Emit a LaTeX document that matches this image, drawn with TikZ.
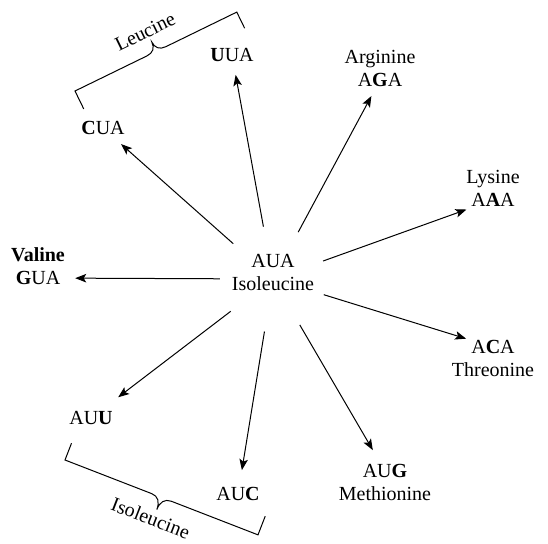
\documentclass[tikz,border=0pt]{standalone}
\usepackage{fontspec}
\setmainfont{Liberation Serif}
\usetikzlibrary{arrows.meta,calc}
\begin{document}
\begin{tikzpicture}[x=1pt,y=-1pt,
  font=\fontsize{20}{23}\selectfont,
  codon/.style={circle,inner sep=0pt,minimum size=48pt},
  acid/.style={inner sep=0pt,anchor=base},
  conn/.style={line width=1pt,-{Stealth[length=11pt,width=8.5pt,inset=2.5pt]}},
  bracket/.style={line width=1pt},
  bracelabel/.style={inner sep=0pt}]
\useasboundingbox (0,0) rectangle (548,543);
% centre
\node[circle,minimum size=106pt,inner sep=0pt] (c) at (273,279) {};
\node[align=center,inner sep=0pt] (ctext) at (273,272) {AUA\\Isoleucine};
% codons
\node[codon] (gua) at (38,278) {\textbf{G}UA};
\node[acid] (valine) at ([yshift=16.5pt]gua.center) {\textbf{Valine}};
\node[codon] (cua) at (103,128) {\textbf{C}UA};
\node[codon] (uua) at (232,55) {\textbf{U}UA};
\node[codon] (aga) at (380,80) {A\textbf{G}A};
\node[acid] (arg) at ([yshift=16.5pt]aga.center) {Arginine};
\node[codon] (aaa) at (493,200) {A\textbf{A}A};
\node[acid] (lys) at ([yshift=16.5pt]aaa.center) {Lysine};
\node[codon] (aca) at (493,347) {A\textbf{C}A};
\node[acid] (thr) at ([yshift=-29.5pt]aca.center) {Threonine};
\node[codon] (aug) at (385,471) {AU\textbf{G}};
\node[acid] (met) at ([yshift=-29.5pt]aug.center) {Methionine};
\node[codon] (auc) at (238,494) {AU\textbf{C}};
\node[codon] (auu) at (91,418) {AU\textbf{U}};
% arrows
\draw[conn, shorten >=13pt] (c) -- (gua);
\draw[conn] (c) -- (cua);
\draw[conn, shorten >=-4pt] (c) -- (uua);
\draw[conn, shorten >=-6pt] (c) -- (aga);
\draw[conn, shorten >=4pt] (c) -- (aaa);
\draw[conn, shorten >=4pt] (c) -- (aca);
\draw[conn] (c) -- (aug);
\draw[conn] (c) -- (auc);
\draw[conn, shorten >=10pt] (c) -- (auu);
% Leucine brace
\begin{scope}[shift={(75,91)},rotate=26,x=1pt,y=1pt]
\draw[bracket] (0,-20) -- (0,0) -- (80,0) .. controls (87,0) and (90.5,4) .. (90.5,10.3)
  .. controls (90.5,4) and (94,0) .. (101,0) -- (180,0) -- (180,-18);
\node[bracelabel,rotate=26,anchor=base] (leu) at (89,16) {Leucine};
\end{scope}
% Isoleucine brace
\begin{scope}[shift={(65,460)},rotate=-21.2,x=1pt,y=1pt]
\draw[bracket] (0,18) -- (0,0) -- (93,0) .. controls (100,0) and (103.5,-5) .. (103.5,-13)
  .. controls (103.5,-5) and (107,0) .. (114,0) -- (207,0) -- (207,20);
\node[bracelabel,rotate=-21.2,anchor=north] (ile) at (101,-16) {Isoleucine};
\end{scope}
\end{tikzpicture}
\end{document}
